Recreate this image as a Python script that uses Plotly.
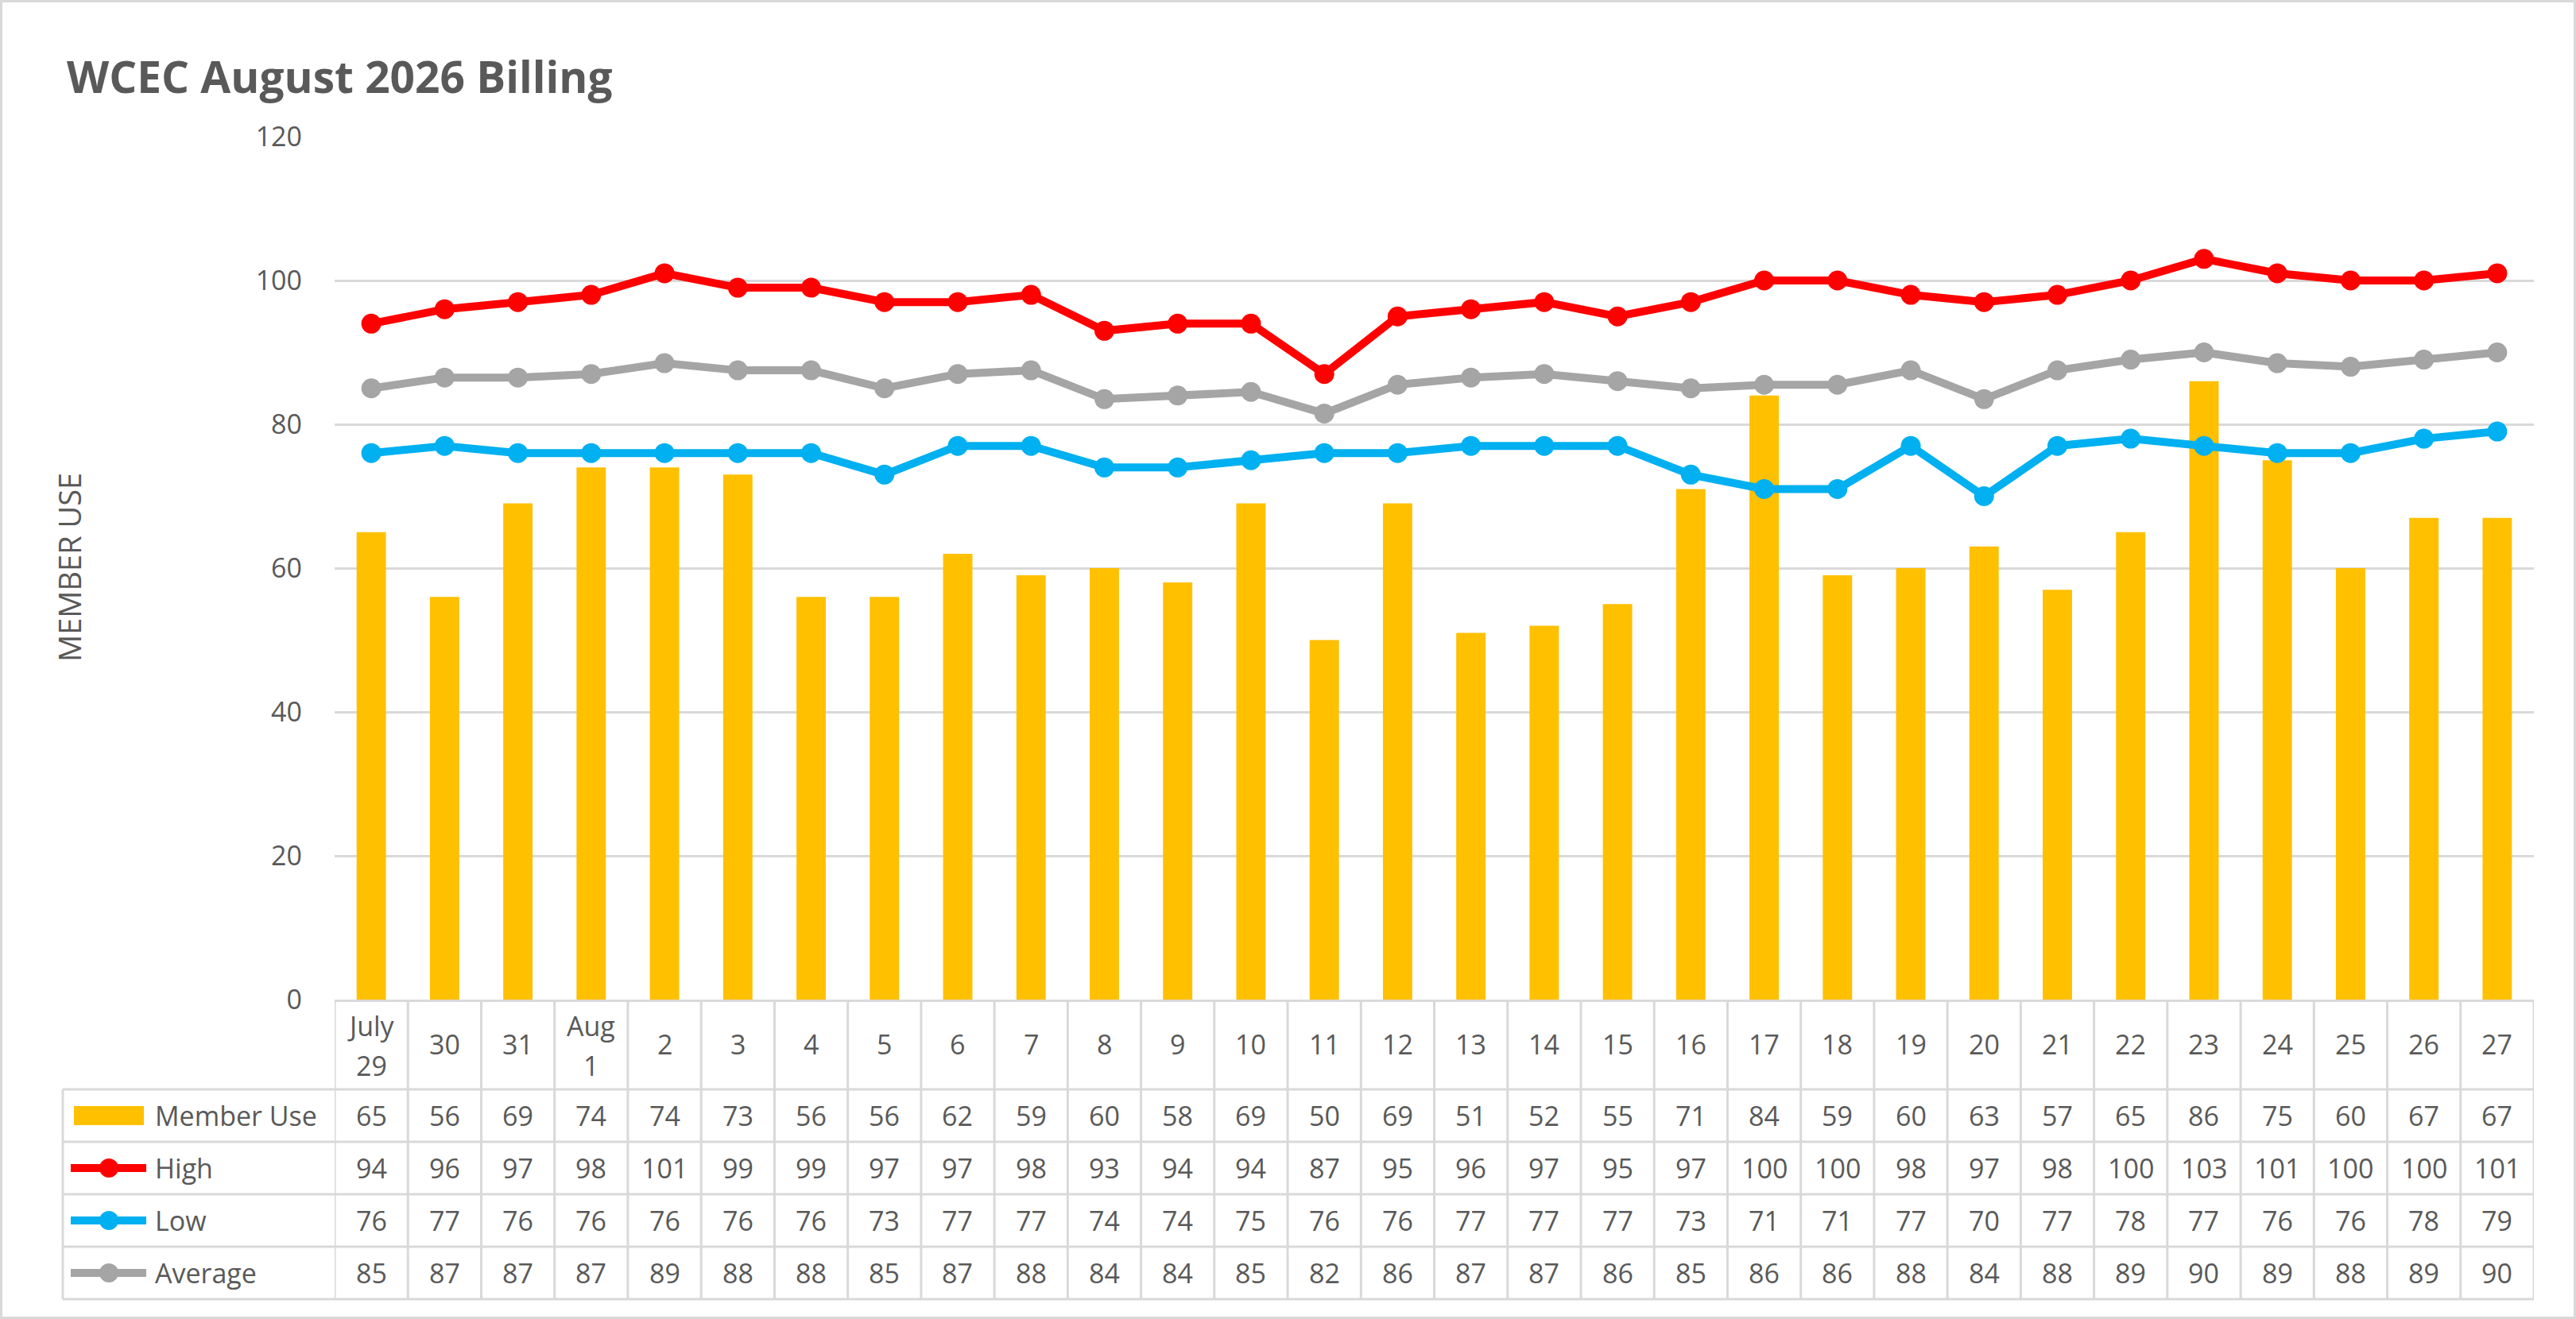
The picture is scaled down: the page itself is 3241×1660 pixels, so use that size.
import plotly.graph_objects as go

# data
days = ["July 29", "30", "31", "Aug 1", "2", "3", "4", "5", "6", "7", "8", "9", "10",
        "11", "12", "13", "14", "15", "16", "17", "18", "19", "20", "21", "22", "23",
        "24", "25", "26", "27"]
day_labels = ["July<br>29", "30", "31", "Aug<br>1", "2", "3", "4", "5", "6", "7", "8",
              "9", "10", "11", "12", "13", "14", "15", "16", "17", "18", "19", "20",
              "21", "22", "23", "24", "25", "26", "27"]
member_use = [65, 56, 69, 74, 74, 73, 56, 56, 62, 59, 60, 58, 69, 50, 69, 51, 52, 55,
              71, 84, 59, 60, 63, 57, 65, 86, 75, 60, 67, 67]
high = [94, 96, 97, 98, 101, 99, 99, 97, 97, 98, 93, 94, 94, 87, 95, 96, 97, 95, 97,
        100, 100, 98, 97, 98, 100, 103, 101, 100, 100, 101]
low = [76, 77, 76, 76, 76, 76, 76, 73, 77, 77, 74, 74, 75, 76, 76, 77, 77, 77, 73, 71,
       71, 77, 70, 77, 78, 77, 76, 76, 78, 79]
average = [85, 86.5, 86.5, 87, 88.5, 87.5, 87.5, 85, 87, 87.5, 83.5, 84, 84.5, 81.5,
           85.5, 86.5, 87, 86, 85, 85.5, 85.5, 87.5, 83.5, 87.5, 89, 90, 88.5, 88, 89, 90]
y_ticks = [0, 20, 40, 60, 80, 100, 120]

W, H = 3241, 1660
PLOT_L, PLOT_R, PLOT_T, PLOT_B = 421, 3188, 172, 1258
TABLE_L = 79
ROWS = [1371, 1437, 1503, 1569, 1635]

TEXT = "#595959"
GRID = "#D9D9D9"
FONT = "Open Sans"


def px_x(px):
    return (px - PLOT_L) / (PLOT_R - PLOT_L)


def px_y(py):
    return (PLOT_B - py) / (PLOT_B - PLOT_T)


def half_up(v):
    return str(int(v + 0.5))


fig = go.Figure()
fig.add_trace(go.Bar(x=days, y=member_use, name="Member Use", width=0.4,
                     marker=dict(color="#FFC000", line_width=0)))
series = [("High", high, "#FF0000"), ("Low", low, "#00B0F0"), ("Average", average, "#A5A5A5")]
for name, vals, color in series:
    fig.add_trace(go.Scatter(x=days, y=vals, name=name, mode="lines+markers",
                             line=dict(color=color, width=10),
                             marker=dict(color=color, size=25)))

shapes = []
ann = []

# table grid
line_style = dict(color=GRID, width=3)
for py in ROWS:
    shapes.append(dict(type="line", xref="paper", yref="paper", x0=px_x(TABLE_L), x1=1,
                       y0=px_y(py), y1=px_y(py), line=line_style))
for i in range(len(days) + 1):
    shapes.append(dict(type="line", xref="x", yref="paper", x0=i - 0.5, x1=i - 0.5,
                       y0=px_y(PLOT_B), y1=px_y(ROWS[-1]), line=line_style))
shapes.append(dict(type="line", xref="paper", yref="paper", x0=px_x(TABLE_L), x1=px_x(TABLE_L),
                   y0=px_y(ROWS[0]), y1=px_y(ROWS[-1]), line=line_style))

# header labels (category index positions); two-line labels get a bit more spacing
head_y = (PLOT_B + ROWS[0]) / 2
for i, lab in enumerate(day_labels):
    parts = lab.split("<br>")
    if len(parts) == 1:
        offsets = [0]
    else:
        offsets = [-24, 26]
    for part, off in zip(parts, offsets):
        ann.append(dict(x=i, xref="x", yref="paper", y=px_y(head_y + off),
                        text=part, showarrow=False, yanchor="middle",
                        font=dict(family=FONT, size=34, color=TEXT)))

# rows with legend keys
row_data = [("Member Use", member_use, "#FFC000", "bar"),
            ("High", high, "#FF0000", "line"),
            ("Low", low, "#00B0F0", "line"),
            ("Average", average, "#A5A5A5", "line")]
for r, (name, vals, color, kind) in enumerate(row_data):
    yc = (ROWS[r] + ROWS[r + 1]) / 2
    for i, v in enumerate(vals):
        ann.append(dict(x=i, xref="x", yref="paper", y=px_y(yc), text=half_up(v),
                        showarrow=False, yanchor="middle",
                        font=dict(family=FONT, size=34, color=TEXT)))
    ann.append(dict(x=px_x(193), xref="paper", yref="paper", y=px_y(yc), text=name,
                    showarrow=False, xanchor="left", yanchor="middle",
                    font=dict(family=FONT, size=34, color=TEXT)))
    if kind == "bar":
        shapes.append(dict(type="rect", xref="paper", yref="paper", x0=px_x(93), x1=px_x(181),
                           y0=px_y(yc - 12), y1=px_y(yc + 12), fillcolor=color, line_width=0))
    else:
        shapes.append(dict(type="line", xref="paper", yref="paper", x0=px_x(89), x1=px_x(184),
                           y0=px_y(yc), y1=px_y(yc), line=dict(color=color, width=10)))
        shapes.append(dict(type="circle", xref="paper", yref="paper", x0=px_x(125), x1=px_x(149),
                           y0=px_y(yc - 12), y1=px_y(yc + 12), fillcolor=color, line_width=0))

# chart border
shapes.append(dict(type="rect", xref="paper", yref="paper", x0=px_x(1.5), x1=px_x(W - 1.5),
                   y0=px_y(H - 1.5), y1=px_y(1.5), line=dict(color=GRID, width=3)))

# title and y axis title
ann.append(dict(x=px_x(82), xref="paper", yref="paper", y=px_y(96), text="<b>WCEC August 2026 Billing</b>",
                showarrow=False, xanchor="left", yanchor="middle",
                font=dict(family=FONT, size=55, color=TEXT)))
ann.append(dict(x=px_x(87), xref="paper", yref="paper", y=px_y(714), text="MEMBER USE",
                showarrow=False, textangle=-90, xanchor="center", yanchor="middle",
                font=dict(family=FONT, size=38, color=TEXT)))

fig.update_layout(
    width=W, height=H, autosize=False,
    margin=dict(l=PLOT_L, r=W - PLOT_R, t=PLOT_T, b=H - PLOT_B, pad=0),
    paper_bgcolor="white", plot_bgcolor="white",
    showlegend=False, bargap=0.6,
    shapes=shapes, annotations=ann,
    font=dict(family=FONT, color=TEXT),
)
fig.update_xaxes(type="category", range=[-0.5, len(days) - 0.5], showticklabels=False,
                 showgrid=False, showline=True, linecolor=GRID, linewidth=3, ticks="",
                 zeroline=False)
fig.update_yaxes(range=[0, 120], tickvals=y_ticks, showgrid=True, gridcolor=GRID, gridwidth=3,
                 zeroline=False, showline=False, ticks="", ticklabelstandoff=40,
                 tickfont=dict(family=FONT, size=34, color=TEXT))

fig.write_html("out.html", config={"displayModeBar": False},
               post_script="document.body.style.margin='0';")
